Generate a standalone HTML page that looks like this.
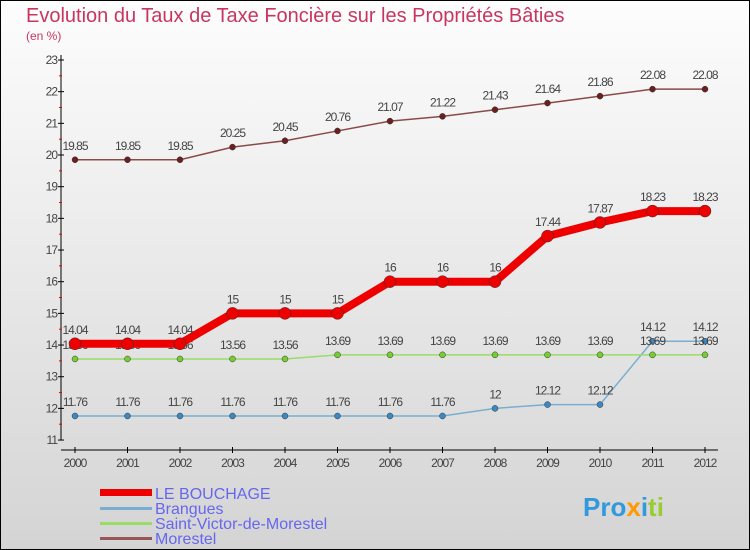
<!DOCTYPE html>
<html><head><meta charset="utf-8"><style>
body{margin:0}
svg{display:block;font-family:"Liberation Sans",sans-serif}
</style></head><body>
<svg width="750" height="550">
<defs><linearGradient id="bg" x1="0" y1="0" x2="0" y2="1"><stop offset="0" stop-color="#fdfdfd"/><stop offset="1" stop-color="#d4d4d4"/></linearGradient></defs>
<rect x="0.5" y="0.5" width="749" height="549" fill="url(#bg)" stroke="#000"/>
<text x="26" y="22" font-size="20" fill="#c8365f">Evolution du Taux de Taxe Foncière sur les Propriétés Bâties</text>
<text x="26" y="40" font-size="12" fill="#c8365f">(en %)</text>
<g id="axes"></g><g id="series"></g>
<g>
<rect x="100" y="489" width="52" height="7" fill="#e00"/>
<text x="155" y="499" font-size="16" fill="#6666ee">LE BOUCHAGE</text>
<rect x="100" y="507" width="52" height="3" fill="#7aaed0"/>
<text x="155" y="514" font-size="16" fill="#6666ee">Brangues</text>
<rect x="100" y="522" width="52" height="3" fill="#99dd66"/>
<text x="155" y="529" font-size="16" fill="#6666ee">Saint-Victor-de-Morestel</text>
<rect x="100" y="537" width="52" height="3" fill="#955"/>
<text x="155" y="544" font-size="16" fill="#6666ee">Morestel</text>
</g>
<g font-size="26" font-weight="bold">
<text x="583" y="516"><tspan fill="#3399dd">Pro</tspan><tspan fill="#ff9900">x</tspan><tspan fill="#3399dd">i</tspan><tspan fill="#99cc33">ti</tspan></text>
</g>
</svg>
<script>
const years=[2000,2001,2002,2003,2004,2005,2006,2007,2008,2009,2010,2011,2012];
const yTicks=[11,12,13,14,15,16,17,18,19,20,21,22,23];
const leBouchage=[14.04,14.04,14.04,15,15,15,16,16,16,17.44,17.87,18.23,18.23];
const brangues=[11.76,11.76,11.76,11.76,11.76,11.76,11.76,11.76,12,12.12,12.12,14.12,14.12];
const saintVictor=[13.56,13.56,13.56,13.56,13.56,13.69,13.69,13.69,13.69,13.69,13.69,13.69,13.69];
const morestel=[19.85,19.85,19.85,20.25,20.45,20.76,21.07,21.22,21.43,21.64,21.86,22.08,22.08];
const NS="http://www.w3.org/2000/svg";
const X=i=>75+i*52.5, Y=v=>60+(23-v)*31.67;
function mk(t,a,p){const e=document.createElementNS(NS,t);for(const k in a)e.setAttribute(k,a[k]);p.appendChild(e);return e;}
const ax=document.getElementById('axes');
let l=mk('line',{x1:61,y1:55,x2:61,y2:440,stroke:'#000'},ax);


l=mk('line',{x1:61,y1:450,x2:718,y2:450,stroke:'#000'},ax);


yTicks.forEach(v=>{
 mk('line',{x1:58,y1:Y(v),x2:64,y2:Y(v),stroke:'#000'},ax);
 if(v<23)mk('line',{x1:59,y1:Y(v+0.5),x2:62,y2:Y(v+0.5),stroke:'#e00'},ax);
 const t=mk('text',{x:57,y:Y(v)+4,'text-anchor':'end','font-size':12,fill:'#444','letter-spacing':'-1'},ax);t.textContent=v;
 
 
});
years.forEach((y,i)=>{
 mk('line',{x1:X(i),y1:447,x2:X(i),y2:453,stroke:'#000'},ax);
 const t=mk('text',{x:X(i),y:467,'text-anchor':'middle','font-size':12,fill:'#444','letter-spacing':'-1'},ax);t.textContent=y;
 
 
});
const sg=document.getElementById('series');
function series(data,name,col,dot,w,r){
 const g=mk('g',{},sg);
 
 
 mk('polyline',{points:data.map((v,i)=>X(i)+','+Y(v)).join(' '),fill:'none',stroke:col,'stroke-width':w,'stroke-linejoin':'round'},g);
 data.forEach((v,i)=>{
  const c=mk('circle',{cx:X(i),cy:Y(v),r:r,fill:dot,stroke:'#333','stroke-width':0.5},g);
  
  
  const t=mk('text',{x:X(i),y:Y(v)-10,'text-anchor':'middle','font-size':12,fill:'#444','letter-spacing':'-1'},g);
  t.textContent=v;
  
  
 });
}
series(morestel,'morestel','#8b4a4a','#6b1f1f',1.5,3);
series(brangues,'brangues','#7aaed0','#3b88c4',1.5,3);
series(saintVictor,'saint-victor','#99dd66','#77cc33',1.5,3);
series(leBouchage,'le-bouchage','#ee0000','#ee0000',8,6);
</script>
</body></html>
